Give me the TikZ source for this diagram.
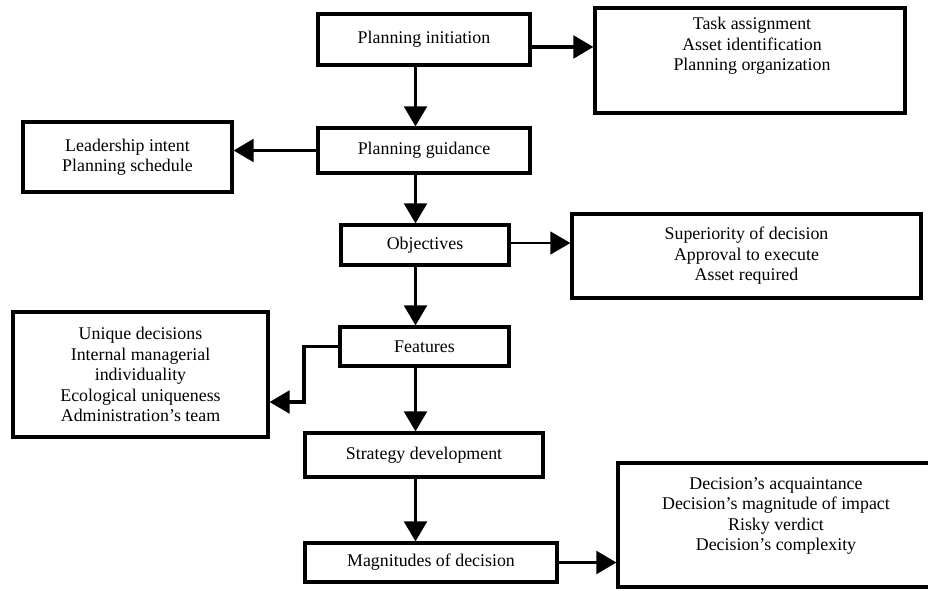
\documentclass[tikz,border=0pt]{standalone}
\usepackage{fontspec}
\setmainfont{Liberation Serif}
\usetikzlibrary{arrows.meta}
\begin{document}
\begin{tikzpicture}[x=0.75pt,y=-0.75pt,
  txt/.style={inner sep=0pt, align=center, font=\fontsize{13.4pt}{15.4pt}\selectfont},
  box/.style={txt, draw, line width=2.4pt},
  wh/.style 2 args={minimum width=#1*0.75pt, minimum height=#2*0.75pt},
  conn/.style={line width=2.4pt, -{Triangle[length=15pt,width=17pt]}},
  thinconn/.style={conn, line width=1.6pt}]
\useasboundingbox (0,0) rectangle (928,590);

% main column
\node[box, wh={212}{51}] (pi) at (424,39.5) {Planning initiation};
\node[box, wh={212}{45}] (pg) at (424,150.5) {Planning guidance};
\node[box, wh={168}{40}] (obj) at (425,245) {Objectives};
\node[box, wh={169}{39}] (feat) at (424.5,346.5) {Features};
\node[box, wh={238}{44}] (strat) at (424,455) {Strategy development};
\node[box, wh={252}{39}] (mag) at (431,562.5) {Magnitudes of decision};

% side boxes
\node[box, wh={310}{105}] (task) at (750,60.5) {};
\node[txt] (tasktext) at (752,46) {Task assignment\\Asset identification\\Planning organization};
\node[box, wh={209}{70}] (lead) at (127.5,157) {Leadership intent\\Planning schedule};
\node[box, wh={349}{84}] (sup) at (746.5,256) {Superiority of decision\\Approval to execute\\Asset required};
\node[box, wh={255}{125}] (uni) at (140.5,374.5) {Unique decisions\\Internal managerial\\individuality\\Ecological uniqueness\\Administration’s team};
\node[box, wh={317}{124}] (dec) at (776.5,525) {};
\node[txt] (dectext) at (776,516) {Decision’s acquaintance\\Decision’s magnitude of impact\\Risky verdict\\Decision’s complexity};

% connectors
\coordinate (vx) at (415.5,0);
\draw[conn] (pi.south -| vx) -- (pg.north -| vx);
\draw[conn] (pg.south -| vx) -- (obj.north -| vx);
\draw[conn] (obj.south -| vx) -- (feat.north -| vx);
\draw[conn] (feat.south -| vx) -- (strat.north -| vx);
\draw[conn] (strat.south -| vx) -- (mag.north -| vx);

\coordinate (pis) at ([yshift=-5.6pt]pi.east);
\draw[conn] (pis) -- (pis -| task.west);
\draw[conn] (pg.west) -- (pg.west -| lead.east);
\coordinate (objs) at ([yshift=1.5pt]obj.east);
\draw[thinconn] (objs) -- (objs -| sup.west);
\coordinate (elbow) at (304,402);
\draw[conn] (feat.west) -| (elbow) -- (elbow -| uni.east);
\draw[conn] (mag.east) -- (mag.east -| dec.west);
\end{tikzpicture}
\end{document}
